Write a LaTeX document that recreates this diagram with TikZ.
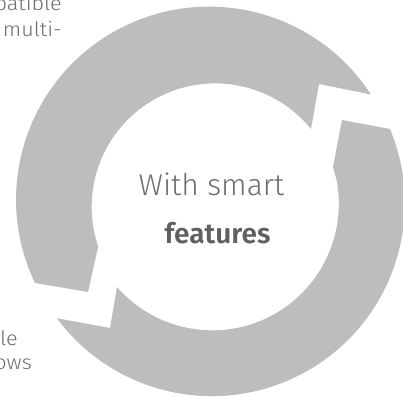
\documentclass[tikz,border=0pt]{standalone}
\usepackage{fontspec}
\setmainfont{Fira Sans}
\newfontfamily\ltfont{Fira Sans Light}
\newfontfamily\sidefont{Fira Sans Light}[FakeStretch=1.08]
\newfontfamily\bdfont{Fira Sans SemiBold}
\definecolor{ringgray}{RGB}{188,189,191}
\definecolor{txtgray}{RGB}{110,110,112}
\definecolor{boldgray}{RGB}{96,96,98}
\tikzset{
  piece/.style={fill=ringgray},
  sidetext/.style={anchor=base east, inner sep=0pt, text=txtgray, font=\sidefont\fontsize{20}{24}\selectfont},
  centertext/.style={anchor=base, inner sep=0pt, text=txtgray, font=\ltfont\fontsize{30}{36}\selectfont},
  boldtext/.style={anchor=base, inner sep=0pt, text=boldgray, font=\bdfont\fontsize{28}{34}\selectfont}
}
\begin{document}
\begin{tikzpicture}[x=1pt,y=1pt]
\useasboundingbox (0,0) rectangle (403,396);
\clip (0,0) rectangle (403,396);
% upper-left circular arrow
\fill[piece] (35,113) arc[start angle=205.6, end angle=33, radius=193]
  -- (319,312) -- (311,267)
  arc[start angle=39.1, end angle=198.7, radius=123.5]
  -- (88,104) -- cycle;
% lower-right circular arrow
\fill[piece] (390,267) arc[start angle=22.6, end angle=-143.4, radius=193]
  -- (110,68) -- (117,109)
  arc[start angle=-138.9, end angle=11, radius=126.5]
  -- (333,229) -- (342,276) -- cycle;
% centre text
\node[centertext] (t1) at (211.5,200) {With smart};
\node[boldtext] (t2) at (217.5,153) {features};
% cut-off side texts
\node[sidetext] (s1) at (62,385) {patible};
\node[sidetext] (s2) at (62,359) {multi-};
\node[sidetext] (s3) at (18,51) {le};
\node[sidetext] (s4) at (32,27) {ows};
\end{tikzpicture}
\end{document}
